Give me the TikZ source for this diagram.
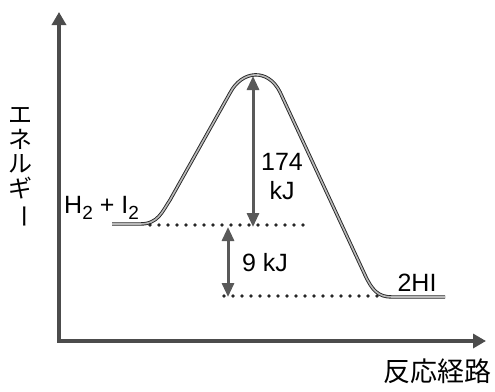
\documentclass[tikz,border=0pt]{standalone}
\usepackage{fontspec}
\setmainfont{Liberation Sans}
\newfontfamily\jpfont{Noto Sans CJK JP}
\usetikzlibrary{arrows.meta}
\begin{document}
\begin{tikzpicture}[x=1pt,y=-1pt,
  axisline/.style={line width=3.6pt,black!70,-{Triangle[length=13pt,width=14pt]}},
  curveline/.style={draw=black!85,double=gray!55,double distance=1.6pt,line width=0.9pt},
  dotline/.style={line width=3.6pt,black!85,dash pattern=on 0pt off 9pt,line cap=round},
  gapline/.style={line width=3pt,black!65,{Triangle[length=14pt,width=12pt]}-{Triangle[length=14pt,width=12pt]}},
  lbl/.style={inner sep=0pt,font=\fontsize{25}{29}\selectfont},
  jlbl/.style={inner sep=0pt,font=\jpfont\fontsize{24}{24.5}\selectfont}]
\useasboundingbox (0,0) rectangle (495,391);
% axes
\coordinate (O) at (59,341);
\coordinate (Ytop) at (59,12);
\coordinate (Xend) at (486,341);
\draw[axisline] (O) -- (Ytop);
\draw[axisline] ([xshift=-1.8pt]O) -- (Xend);
% energy curve
\draw[curveline] (112,224) -- (140,224) .. controls (158,224) and (162,212) .. (170,200)
  -- (230,93) .. controls (242,70) and (268,68) .. (280,92)
  -- (365,275) .. controls (372,290) and (378,297) .. (392,297) -- (445,297);
% dotted levels
\coordinate (D1a) at (150,225);
\coordinate (D1b) at (310,225);
\coordinate (D2a) at (224,296);
\coordinate (D2b) at (382,296);
\draw[dotline] (D1a) -- (D1b);
\draw[dotline] (D2a) -- (D2b);
% gap arrows
\coordinate (A1t) at (253,76);
\coordinate (A1b) at (253,227);
\coordinate (A2t) at (228,227);
\coordinate (A2b) at (228,297);
\draw[gapline] (A1t) -- (A1b);
\draw[gapline] (A2t) -- (A2b);
% labels
\node[lbl,align=center] (ea) at (282,177) {174\\kJ};
\node[lbl] (dh) at (265,263) {9 kJ};
\node[lbl] (prod) at (417,283) {2HI};
\node[lbl,anchor=base west] (reac) at (64,213) {H\raisebox{-6pt}{\fontsize{19}{20}\selectfont 2} + I\raisebox{-6pt}{\fontsize{19}{20}\selectfont 2}};
\node[jlbl,align=center] (ylab) at (21,168) {エ\\ネ\\ル\\ギ\\\rotatebox[origin=c]{-90}{ー}};
\node[jlbl,font=\jpfont\fontsize{27}{28}\selectfont] (xlab) at (437,371) {反応経路};
\end{tikzpicture}
\end{document}
